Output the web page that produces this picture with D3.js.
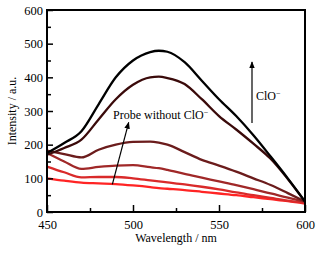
<!DOCTYPE html>
<html><head><meta charset="utf-8">
<script src="https://cdn.jsdelivr.net/npm/d3@7"></script>
<style>body{margin:0;background:#fff}svg{display:block}</style>
</head><body>
<svg id="c" width="322" height="254" font-family="'Liberation Serif','Times New Roman',serif"></svg>
<script>
const wavelengths = [450,460,470,480,490,500,510,515,520,530,540,550,560,570,580,590,600];
const s1 = [175,205,240,320,400,450,475,479,476,445,390,335,285,228,165,100,31];
const s2 = [170,190,215,275,335,378,400,402,398,380,335,285,245,203,158,98,31];
const s3 = [182,172,162,185,200,208,209,206,200,178,155,138,120,100,80,56,31];
const s4 = [175,150,128,134,138,139,133,130,125,113,102,91,80,68,55,43,30];
const s5 = [135,118,103,104,104,100,94,91,88,82,75,67,58,50,42,34,27];
const s6 = [100,93,87,85,83,79,74,71,69,65,60,55,50,44,38,32,25];
const seriesList = [s1,s2,s3,s4,s5,s6];
const colors = ["#000000","#3a0a0a","#6b1c1c","#a02828","#d92a2a","#ff2424"];
const xTicks = [450,500,550,600];
const yTicks = [0,100,200,300,400,500,600];
const FONT = "Liberation Serif, Times New Roman, serif";

const svg = d3.select("#c");
const L=47,R=305,T=10,B=212;
const x = d3.scaleLinear().domain([450,600]).range([L,R]);
const y = d3.scaleLinear().domain([0,600]).range([B,T]);

const line = d3.line().x((d,i)=>x(wavelengths[i])).y(d=>y(d)).curve(d3.curveMonotoneX);
seriesList.slice().reverse().forEach((s,k)=>{
  const idx = seriesList.length-1-k;
  svg.append("path").attr("d",line(s)).attr("fill","none")
    .attr("stroke",colors[idx]).attr("stroke-width",2.3);
});

svg.append("rect").attr("x",L).attr("y",T).attr("width",R-L).attr("height",B-T)
  .attr("fill","none").attr("stroke","#000").attr("stroke-width",2);

const xAxis = d3.axisBottom(x).tickValues(xTicks).tickSize(-7).tickFormat(d3.format("d")).tickPadding(8);
svg.append("g").attr("transform",`translate(0,${B})`).call(xAxis);
const xMinor = d3.axisBottom(x).tickValues([475,525,575]).tickSize(-4).tickFormat("");
svg.append("g").attr("transform",`translate(0,${B})`).call(xMinor);
const yAxis = d3.axisLeft(y).tickValues(yTicks).tickSize(-6).tickFormat(d3.format("d")).tickPadding(4);
svg.append("g").attr("transform",`translate(${L},0)`).call(yAxis);
const yMinor = d3.axisLeft(y).tickValues([50,150,250,350,450,550]).tickSize(-4).tickFormat("");
svg.append("g").attr("transform",`translate(${L},0)`).call(yMinor);
svg.selectAll(".domain").remove();
svg.selectAll("g").attr("font-family",FONT);
svg.selectAll(".tick line").attr("stroke","#000").attr("stroke-width",1.5);
svg.selectAll(".tick text").attr("font-size",12.5).attr("font-family",FONT).attr("fill","#000");

svg.append("text").attr("x",(L+R)/2).attr("y",242).attr("text-anchor","middle")
  .attr("font-family",FONT).attr("font-size",12).text("Wavelength / nm");
svg.append("text").attr("transform",`translate(16,${(T+B)/2}) rotate(-90)`).attr("text-anchor","middle")
  .attr("font-family",FONT).attr("font-size",12).text("Intensity / a.u.");

const defs = svg.append("defs");
defs.append("marker").attr("id","ah").attr("viewBox","0 0 10 10").attr("refX",9).attr("refY",5)
  .attr("markerWidth",7).attr("markerHeight",7).attr("markerUnits","userSpaceOnUse").attr("orient","auto")
  .append("path").attr("d","M0,1 L10,5 L0,9 Z").attr("fill","#000");

svg.append("line").attr("x1",x(488)).attr("y1",y(82)).attr("x2",x(497.5)).attr("y2",y(266))
  .attr("stroke","#000").attr("stroke-width",1.2).attr("marker-end","url(#ah)");
const t1 = svg.append("text").attr("x",113).attr("y",119).attr("font-family",FONT).attr("font-size",12);
t1.append("tspan").text("Probe without ClO");
t1.append("tspan").attr("dy",-4).attr("font-size",8).text("−");

svg.append("line").attr("x1",252).attr("y1",123).attr("x2",252).attr("y2",62)
  .attr("stroke","#000").attr("stroke-width",1.2).attr("marker-end","url(#ah)");
const t2 = svg.append("text").attr("x",256).attr("y",100).attr("font-family",FONT).attr("font-size",12);
t2.append("tspan").text("ClO");
t2.append("tspan").attr("dy",-4).attr("font-size",8).text("−");
</script>
</body></html>
